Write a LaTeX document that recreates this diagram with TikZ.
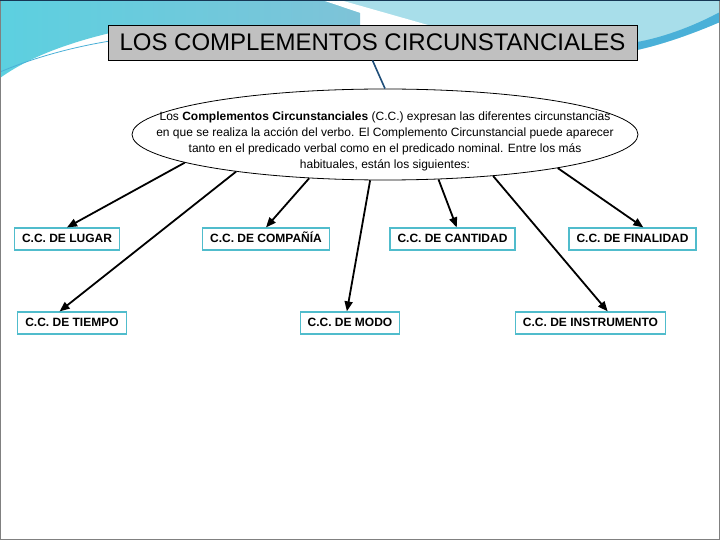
\documentclass[tikz,border=0pt]{standalone}
\usepackage{fontspec}
\setmainfont{Liberation Sans}
\usepackage{tikz}
\usetikzlibrary{shapes.geometric, arrows.meta}
\definecolor{bgcyan}{RGB}{92, 208, 224}
\definecolor{bgsteel}{RGB}{126, 195, 216}
\definecolor{bgpale}{RGB}{168, 222, 234}
\definecolor{bgstrip}{RGB}{74, 176, 216}
\definecolor{titlegray}{RGB}{192, 192, 192}
\definecolor{boxteal}{RGB}{80, 188, 204}
\definecolor{linkblue}{RGB}{31, 78, 121}

\begin{document}
\begin{tikzpicture}[x=1pt, y=-1pt,
		ccbox/.style={rectangle, draw=boxteal, line width=1.2pt, fill=white, minimum height=22, inner xsep=7.5, inner ysep=0, text height=9, text depth=2.5, font=\bfseries\fontsize{12}{14}\selectfont},
		flecha/.style={-{Triangle[length=10pt, width=8pt]}, line width=1.8pt}]
	\useasboundingbox (0,0) rectangle (720,540);
	% fondo
	\fill[white] (0,0) rectangle (720,540);
	\shade[left color=bgcyan, right color=bgsteel] (0,0) -- (360,0) -- (360,25) -- (110,33) .. controls (60,45) and (25,60) .. (0,78) -- cycle;
	\fill[bgpale] (330,0) -- (720,0) -- (720,22) .. controls (690,35) and (660,45) .. (637,50) -- (637,25) -- (400,25) -- cycle;
	\fill[bgstrip] (720,12) .. controls (690,28) and (660,38) .. (637,42) -- (637,50) .. controls (660,45) and (690,35) .. (720,22) -- cycle;
	\fill[white] (322,0) -- (340,0) -- (428,25) -- (396,25) -- cycle;
	\draw[bgstrip, line width=0.8pt] (0,72) .. controls (40,55) and (80,46) .. (110,41);
	\draw[gray, line width=1pt] (0.5,0.5) rectangle (719.5,539.5);
	\draw[linkblue!70!black, line width=1pt] (0,0.5) -- (720,0.5);
	% titulo y nucleo
	\node[rectangle, draw=black, line width=0.8pt, fill=titlegray, minimum width=529, minimum height=35, font=\fontsize{24}{28}\selectfont] (title) at (372.5,42.5) {LOS COMPLEMENTOS CIRCUNSTANCIALES};
	\node[ellipse, draw=black, line width=0.8pt, fill=white, minimum width=506, minimum height=91, inner sep=0] (nucleo) at (385,134.5) {};
	\node[font=\fontsize{12}{16}\selectfont, align=center] (nucleotxt) at (385,141) {Los \textbf{Complementos Circunstanciales} (C.C.) expresan las diferentes circunstancias\\ en que se realiza la acción del verbo. El Complemento Circunstancial puede aparecer\\ tanto en el predicado verbal como en el predicado nominal. Entre los más\\ habituales, están los siguientes:};
	\draw[linkblue, line width=1.6pt] (title.south) -- (nucleo.north);
	% complementos
	\node[ccbox] (lugar) at (67,239) {C.C. DE LUGAR};
	\node[ccbox] (compania) at (266,239) {C.C. DE COMPAÑÍA};
	\node[ccbox] (cantidad) at (452.5,239) {C.C. DE CANTIDAD};
	\node[ccbox] (finalidad) at (632.5,239) {C.C. DE FINALIDAD};
	\node[ccbox] (tiempo) at (72,323) {C.C. DE TIEMPO};
	\node[ccbox] (modo) at (350,323) {C.C. DE MODO};
	\node[ccbox] (instrumento) at (590.5,323) {C.C. DE INSTRUMENTO};
	\draw[flecha] (nucleo.188.5) -- (lugar.north);
	\draw[flecha] (nucleo.194.5) -- (tiempo.137);
	\draw[flecha] (nucleo.210) -- (compania.north);
	\draw[flecha] (nucleo.252) -- (modo.105);
	\draw[flecha] (nucleo.320) -- (cantidad.70);
	\draw[flecha] (nucleo.339) -- (instrumento.34.5);
	\draw[flecha] (nucleo.349) -- (finalidad.47.7);
\end{tikzpicture}
\end{document}
